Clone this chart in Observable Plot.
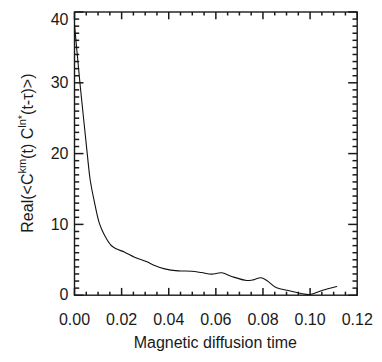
<!DOCTYPE html>
<html>
<head>
<meta charset="utf-8">
<script src="https://cdn.jsdelivr.net/npm/d3@7"></script>
<script src="https://cdn.jsdelivr.net/npm/@observablehq/plot@0.6"></script>
<style>
  html, body { margin: 0; padding: 0; background: #fff; }
  #chart svg { display: block; }
</style>
</head>
<body>
<div id="chart"></div>
<script>
// Data
const timeVals = [0, 0.001, 0.0023, 0.004, 0.0054, 0.0067, 0.0083, 0.0106, 0.0128, 0.0156, 0.0177, 0.0213, 0.0255, 0.0305, 0.034, 0.0383, 0.044, 0.0497, 0.0539, 0.0582, 0.0624, 0.0667, 0.0731, 0.0759, 0.0791, 0.0816, 0.0858, 0.0908, 0.0957, 0.1, 0.105, 0.1113];
const corrVals = [38.2, 34.6, 30, 24.5, 20, 16.2, 13.4, 10.1, 8.43, 7.02, 6.55, 6.08, 5.37, 4.76, 4.19, 3.72, 3.44, 3.39, 3.2, 2.97, 3.16, 2.64, 2.08, 2.17, 2.46, 2.08, 1.04, 0.66, 0.28, 0.1, 0.66, 1.23];

const xMajor = [0, 0.02, 0.04, 0.06, 0.08, 0.10, 0.12];
const xMinor = [0.005, 0.01, 0.015, 0.025, 0.03, 0.035, 0.045, 0.05, 0.055, 0.065, 0.07, 0.075, 0.085, 0.09, 0.095, 0.105, 0.11, 0.115];
const yMajorLow = [0, 10, 20, 30];
const yMajorTop = [40];
const yMajor = [0, 10, 20, 30, 40];
const yMinor = [1, 2, 3, 4, 5, 6, 7, 8, 9, 11, 12, 13, 14, 15, 16, 17, 18, 19, 21, 22, 23, 24, 25, 26, 27, 28, 29, 31, 32, 33, 34, 35, 36, 37, 38, 39];

const xLabel = "Magnetic diffusion time";

const data = timeVals.map((t, i) => ({t, v: corrVals[i]}));

const font = "'Liberation Sans', Arial, Helvetica, sans-serif";
const ink = "#1a1a1a";

const W = 382, H = 362, ML = 74, MR = 25.3, MT = 11.5, MB = 67.3;
const innerW = W - ML - MR, innerH = H - MT - MB;
const xDom = [0, 0.12], yDom = [0, 40];
const xMinorLen = 3.5, xMajorLen = 7.3, yMinorLen = 4.7, yMajorLen = 9;
const yPerPx = (yDom[1] - yDom[0]) / innerH;
const xPerPx = (xDom[1] - xDom[0]) / innerW;

// inward tick segments on all four sides, built from the tick arrays
function xSeg(values, len) {
  const d = len * yPerPx;
  return values.flatMap(v => [
    {x: v, y1: yDom[0], y2: yDom[0] + d},
    {x: v, y1: yDom[1] - d, y2: yDom[1]}
  ]);
}
function ySeg(values, len) {
  const d = len * xPerPx;
  return values.flatMap(v => [
    {y: v, x1: xDom[0], x2: xDom[0] + d},
    {y: v, x1: xDom[1] - d, x2: xDom[1]}
  ]);
}
const xTickRows = [...xSeg(xMinor, xMinorLen), ...xSeg(xMajor, xMajorLen)];
const yTickRows = [...ySeg(yMinor, yMinorLen), ...ySeg(yMajor, yMajorLen)];

const chart = Plot.plot({
  width: W,
  height: H,
  marginLeft: ML,
  marginRight: MR,
  marginTop: MT,
  marginBottom: MB,
  style: {fontFamily: font, fontSize: "16px", color: ink, background: "#fff"},
  x: {domain: xDom, axis: null},
  y: {domain: yDom, axis: null},
  marks: [
    Plot.link(xTickRows, {x1: "x", x2: "x", y1: "y1", y2: "y2", stroke: ink, strokeWidth: 1.5}),
    Plot.link(yTickRows, {x1: "x1", x2: "x2", y1: "y", y2: "y", stroke: ink, strokeWidth: 1.5}),
    Plot.frame({stroke: ink, strokeWidth: 1.4, fill: "none"}),
    Plot.axisX({ticks: xMajor, tickSize: 0, tickPadding: 18, tickFormat: d3.format(".2f"), label: null, anchor: "bottom", fontSize: 16}),
    Plot.axisY({ticks: yMajorLow, tickSize: 0, tickPadding: 6, tickFormat: d3.format("d"), label: null, anchor: "left", fontSize: 16}),
    Plot.axisY({ticks: yMajorTop, tickSize: 0, tickPadding: 6, tickFormat: d3.format("d"), label: null, anchor: "left", fontSize: 16, dy: 8}),
    Plot.line(data, {x: "t", y: "v", stroke: "#111", strokeWidth: 1.1, curve: "catmull-rom"})
  ]
});

const svg = d3.select(chart);
svg.append("text")
  .attr("x", ML + innerW / 2).attr("y", 347.5)
  .attr("text-anchor", "middle")
  .attr("font-family", font).attr("font-size", 16).attr("fill", ink)
  .text(xLabel);

const yl = svg.append("text")
  .attr("transform", `translate(33.3,${MT + innerH / 2}) rotate(-90)`)
  .attr("text-anchor", "middle")
  .attr("font-family", font).attr("font-size", 16).attr("fill", ink);
yl.append("tspan").text("Real(<C");
yl.append("tspan").attr("font-size", 11).attr("dy", -7).text("km");
yl.append("tspan").attr("dy", 7).text("(t) C");
yl.append("tspan").attr("font-size", 11).attr("dy", -7).text("ln*");
yl.append("tspan").attr("dy", 7).text("(t-τ)>)");

document.getElementById("chart").appendChild(chart);
</script>
</body>
</html>
